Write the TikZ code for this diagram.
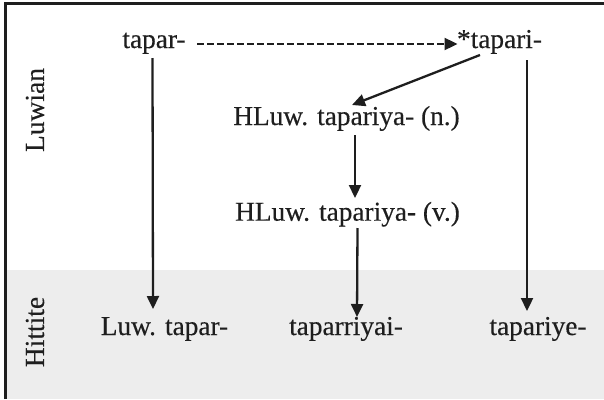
\documentclass[tikz,border=0pt]{standalone}
\usepackage{fontspec}
\setmainfont{Liberation Serif}
\newfontfamily\wordfont[FakeBold=0.3]{Liberation Serif}
\usetikzlibrary{arrows.meta,calc}
\definecolor{ink}{HTML}{1E1E1E}
\definecolor{band}{HTML}{EDEDED}
\begin{document}
\begin{tikzpicture}[x=1pt,y=-1pt,
  word/.style={font=\wordfont\fontsize{27.3}{32}\selectfont, text=ink, inner sep=2pt, anchor=base},
  lang/.style={font=\wordfont\fontsize{27.5}{32}\selectfont, text=ink, rotate=90},
  link/.style={draw=ink, line width=2.3pt, -{Triangle[width=12pt,length=13pt]}},
  dashlink/.style={link, dash pattern=on 7pt off 3pt}]
\useasboundingbox (0,0) rectangle (604,399);
% Hittite band and frame
\fill[band] (7,270) rectangle (604,399);
\draw[ink, line width=2.5pt] (5.5,399) -- (5.5,3.5) -- (604,3.5);
% side labels
\node[lang] (luw) at (35,110) {Luwian};
\node[lang] (hit) at (35,332) {Hittite};
% words (placed by baseline)
\node[word] (tapar) at (154,48) {tapar-};
\node[word] (tapari) at (499.5,48) {*tapari-};
\node[word] (hn) at (346.5,125) {HLuw. tapariya- (n.)};
\node[word] (hv) at (347.5,220.7) {HLuw. tapariya- (v.)};
\node[word] (ltapar) at (164.5,335) {Luw. tapar-};
\node[word] (tpry) at (346,335) {taparriyai-};
\node[word] (tpye) at (538,335) {tapariye-};
% derivations
\draw[dashlink] ($(tapar.base)+(43,-4)$) -- ($(tapari.base)+(-42,-4)$);
\draw[link] ($(tapari.base)+(-19.5,7)$) -- ($(hn.base)+(5.5,-20)$);
\draw[link] ($(hn.base)+(8.5,10)$) -- ($(hv.base)+(7.5,-22.7)$);
\draw[link] ($(hv.base)+(10,7.3)$) -- ($(tpry.base)+(11,-18)$);
\draw[link] ($(tapar.base)+(-1.5,10)$) -- ($(ltapar.base)+(-11.5,-26)$);
\draw[link] ($(tapari.base)+(27.5,12)$) -- ($(tpye.base)+(-11,-24)$);
\end{tikzpicture}
\end{document}
